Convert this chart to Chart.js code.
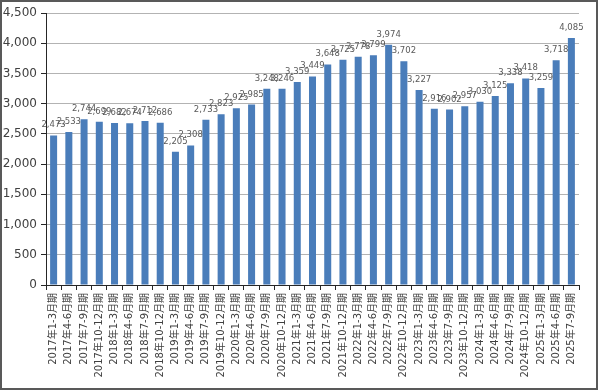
<!DOCTYPE html>
<html>
<head>
<meta charset="utf-8">
<script src="https://cdn.jsdelivr.net/npm/chart.js@4"></script>
<style>
  html, body { margin: 0; padding: 0; background: #fff; }
  #wrap { position: relative; width: 600px; height: 392px; }
  #frame {
    position: absolute; left: 0; top: 0; width: 598px; height: 390px;
    border: 2px solid #595959; box-sizing: border-box; pointer-events: none;
  }
</style>
</head>
<body>
<div id="wrap">
  <canvas id="quarterChart" width="600" height="392"></canvas>
  <div id="frame"></div>
</div>
<script>
// quarters, 2017 Q1 .. 2025 Q3
const years = ['2017', '2018', '2019', '2020', '2021', '2022', '2023', '2024', '2025'];
const quarters = ['1-3月期', '4-6月期', '7-9月期', '10-12月期'];
const labels = [];
years.forEach(y => quarters.forEach(q => labels.push(y + '年' + q)));
labels.length = 35;

const counts = [
  2473, 2533, 2744, 2699,
  2682, 2674, 2712, 2686,
  2205, 2308, 2733, 2823,
  2925, 2985, 3248, 3246,
  3359, 3449, 3648, 3725,
  3778, 3799, 3974, 3702,
  3227, 2916, 2902, 2957,
  3030, 3125, 3338, 3418,
  3259, 3718, 4085
];

const yTicks = [0, 500, 1000, 1500, 2000, 2500, 3000, 3500, 4000, 4500];

// draw the value above each bar
const valueLabels = {
  id: 'valueLabels',
  afterDatasetsDraw(chart) {
    const ctx = chart.ctx;
    const meta = chart.getDatasetMeta(0);
    ctx.save();
    ctx.font = '8.5px "DejaVu Sans"';
    ctx.fillStyle = '#595959';
    ctx.textAlign = 'center';
    ctx.textBaseline = 'bottom';
    meta.data.forEach((bar, i) => {
      ctx.fillText(counts[i].toLocaleString('en-US'), bar.x, bar.y - 6);
    });
    ctx.restore();
  }
};

new Chart(document.getElementById('quarterChart').getContext('2d'), {
  type: 'bar',
  data: {
    labels: labels,
    datasets: [{
      data: counts,
      backgroundColor: '#4a7dba',
      barPercentage: 0.46,
      categoryPercentage: 1
    }]
  },
  options: {
    responsive: false,
    animation: false,
    layout: { padding: { left: 2, right: 21, top: 13, bottom: 4 } },
    plugins: {
      legend: { display: false },
      tooltip: { enabled: false }
    },
    scales: {
      x: {
        afterFit: s => { s.height = 103; },
        grid: {
          drawOnChartArea: false,
          tickLength: 5,
          tickColor: '#262626'
        },
        border: { color: '#262626', width: 1 },
        ticks: {
          autoSkip: false,
          minRotation: 90,
          maxRotation: 90,
          padding: 3,
          color: '#404040',
          font: { family: '"DejaVu Sans", "Noto Sans CJK JP"', size: 10 }
        }
      },
      y: {
        min: 0,
        max: 4500,
        afterFit: s => { s.width = 44; },
        afterBuildTicks: s => { s.ticks = yTicks.map(v => ({ value: v })); },
        grid: {
          color: '#b3b3b3',
          tickLength: 5,
          tickColor: '#262626'
        },
        border: { color: '#262626', width: 1 },
        ticks: {
          padding: 4,
          color: '#404040',
          font: { family: '"DejaVu Sans"', size: 12 },
          callback: v => v.toLocaleString('en-US')
        }
      }
    }
  },
  plugins: [valueLabels]
});
</script>
</body>
</html>
